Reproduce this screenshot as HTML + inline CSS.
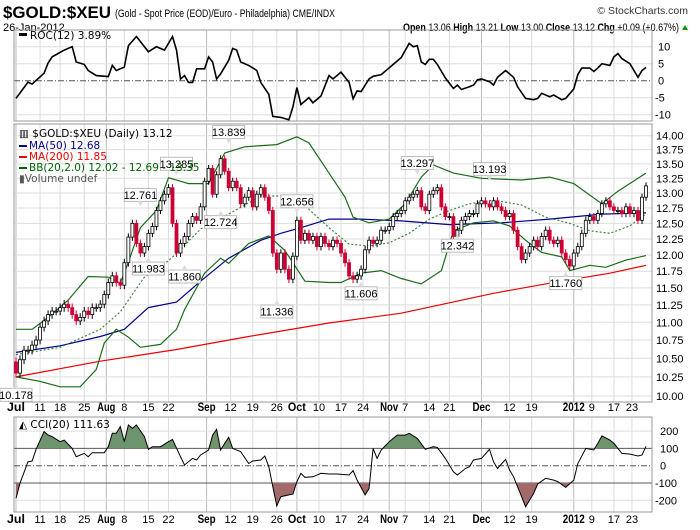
<!DOCTYPE html>
<html><head><meta charset="utf-8"><style>
html,body{margin:0;padding:0;background:#fff}
svg{display:block;font-family:"Liberation Sans",sans-serif}
</style></head><body>
<svg id="chart" width="700" height="530" viewBox="0 0 700 530">
<defs>
<clipPath id="clipUp"><rect x="14" y="418" width="638" height="30.4"/></clipPath>
<clipPath id="clipDn"><rect x="14" y="482.9" width="638" height="30"/></clipPath>
</defs>
<g>
<text x="3" y="18" font-size="17" font-weight="bold" textLength="108" lengthAdjust="spacingAndGlyphs">$GOLD:$XEU</text>
<text x="115" y="17" font-size="11" textLength="220" lengthAdjust="spacingAndGlyphs">(Gold - Spot Price (EOD)/Euro - Philadelphia) CME/INDX</text>
<text x="688" y="14" font-size="10.5" fill="#333" text-anchor="end">© StockCharts.com</text>
<text x="3" y="31" font-size="11">26-Jan-2012</text>
<text x="403" y="31" font-size="11" textLength="276" lengthAdjust="spacingAndGlyphs"><tspan font-weight="bold">Open</tspan> 13.06 <tspan font-weight="bold">High</tspan> 13.21 <tspan font-weight="bold">Low</tspan> 13.00 <tspan font-weight="bold">Close</tspan> 13.12 <tspan font-weight="bold">Chg</tspan> +0.09 (+0.67%)</text>
<polygon points="682,30 688,30 685,25" fill="#090"/>
</g>
<g id="grid"></g>
<g id="panels"></g>
<g id="marks"></g>
<g id="legends" font-family="DejaVu Sans, sans-serif" font-size="10.5">
<rect x="19" y="33" width="8" height="3" fill="#000"/>
<text x="30" y="39">ROC(12) 3.89%</text>
<text x="19" y="137" fill="#000">▥ $GOLD:$XEU (Daily) 13.12</text>
<rect x="19" y="145" width="8" height="2" fill="#00008b"/>
<text x="29" y="149" fill="#00008b">MA(50) 12.68</text>
<rect x="19" y="156" width="8" height="2" fill="#e00"/>
<text x="29" y="160" fill="#e00">MA(200) 11.85</text>
<rect x="19" y="167" width="8" height="2" fill="#060"/>
<text x="29" y="171" fill="#060">BB(20,2.0) 12.02 - 12.69 - 13.35</text>
<text x="19" y="182" fill="#555">▮Volume undef</text>
<text x="19" y="428" fill="#000">◭ CCI(20) 111.63</text>
</g>
</svg>
<script>
var closes=[10.3,10.48,10.61,10.61,10.68,10.75,10.93,11.02,11.11,11.16,11.16,11.21,
11.26,11.21,11.11,11.02,11.07,11.16,11.11,11.21,11.21,11.26,
11.40,11.58,11.68,11.58,11.54,11.88,12.28,12.50,12.18,12.03,
12.13,12.34,12.45,12.71,12.87,12.98,13.09,12.50,12.03,12.18,
12.29,12.50,12.61,12.55,12.77,13.20,13.42,12.98,13.31,13.59,
13.37,13.09,13.20,13.09,12.82,12.93,13.04,12.77,12.98,13.09,
12.93,12.71,12.03,11.78,12.03,11.78,11.63,11.98,12.55,12.23,
12.34,12.23,12.29,12.13,12.29,12.18,12.13,12.23,12.18,12.03,
11.88,11.68,11.63,11.68,11.78,12.08,12.23,12.18,12.23,12.39,
12.39,12.45,12.61,12.66,12.71,12.87,12.93,12.98,13.04,12.77,
12.71,12.98,13.04,13.09,12.77,12.61,12.61,12.29,12.39,12.55,
12.61,12.66,12.66,12.82,12.87,12.82,12.77,12.87,12.77,12.71,
12.61,12.66,12.39,12.13,11.93,12.03,12.13,12.23,12.13,12.29,
12.39,12.23,12.18,12.23,12.03,11.93,11.83,12.03,12.13,12.34,
12.55,12.61,12.55,12.66,12.82,12.87,12.77,12.71,12.71,12.66,
12.77,12.66,12.71,12.55,12.93,13.12];
var priceNotes=[[0,10.178,-1],[31,12.761,1],[33,11.983,-1],[40,13.285,1],[42,11.860,-1],[51,12.724,-1],[53,13.839,1],[65,11.336,-1],[70,12.656,1],[86,11.606,-1],[100,13.297,1],[110,12.342,-1],[118,13.193,1],[137,11.760,-1]];
var ma200=[[0,10.25],[21,10.46],[40,10.62],[58,10.80],[78,10.99],[96,11.13],[119,11.42],[133,11.57],[148,11.72],[157,11.84]];
var ma50=[[0,10.58],[11,10.67],[21,10.80],[27,10.90],[33,11.21],[40,11.29],[46,11.6],[53,11.95],[61,12.23],[66,12.34],[71,12.43],[78,12.57],[86,12.57],[96,12.54],[108,12.48],[121,12.51],[133,12.57],[146,12.65],[157,12.67]];
var bbUpper=[[0,10.90],[4,10.90],[8,11.07],[13,11.32],[18,11.67],[23,11.66],[26,11.57],[28,11.89],[31,12.43],[35,12.71],[38,13.26],[43,13.16],[48,13.16],[52,13.69],[57,13.8],[65,13.84],[70,13.98],[73,13.87],[78,13.34],[82,12.93],[84,12.6],[88,12.51],[93,12.57],[97,12.82],[101,13.27],[104,13.48],[109,13.34],[116,13.25],[126,13.22],[133,13.27],[139,13.16],[146,12.82],[150,13.03],[157,13.34]];
var bbLower=[[0,10.25],[6,10.19],[11,10.12],[16,10.12],[20,10.35],[22,10.71],[25,10.90],[28,10.79],[31,10.65],[36,10.69],[40,10.90],[42,11.18],[47,11.72],[51,11.95],[53,11.87],[58,12.18],[63,12.3],[67,12.07],[72,11.6],[78,11.58],[81,11.58],[86,11.72],[91,11.76],[96,11.64],[101,11.56],[106,11.76],[109,12.38],[114,12.51],[119,12.54],[123,12.46],[127,12.23],[131,12.04],[136,11.97],[138,11.76],[143,11.84],[147,11.81],[152,11.92],[157,11.99]];
var bbMid=[[0,10.55],[11,10.65],[21,10.90],[26,11.15],[32,11.66],[36,11.81],[40,12.02],[46,12.41],[53,12.65],[61,12.95],[68,12.95],[73,12.73],[78,12.43],[83,12.17],[88,12.14],[93,12.19],[98,12.34],[103,12.57],[108,12.71],[113,12.82],[119,12.88],[126,12.8],[132,12.6],[138,12.5],[143,12.38],[148,12.34],[153,12.46],[157,12.65]];
var roc=[[0,-5.2],[3,-0.4],[4,-1],[7,2.2],[8,5.2],[9,7],[12,9],[14,10],[15,5.5],[17,4.8],[18,3],[20,1.5],[23,1.2],[24,4.5],[25,3],[27,4],[28,10.3],[30,13],[33,8.5],[35,10],[37,9],[39,13],[40,9],[41,0.5],[42,1.5],[43,-0.5],[44,-0.5],[45,3.5],[47,3.5],[48,7],[49,5.5],[50,0.5],[51,2],[53,6],[54,9.5],[55,9],[56,5.5],[58,4.5],[60,3],[61,-0.5],[63,-4],[64,-10.5],[66,-10.8],[68,-11.5],[69,-7.7],[70,-2],[71,-7],[73,-5],[74,-6.5],[76,-4.5],[78,1.5],[79,0.5],[81,2.5],[83,-0.5],[84,-5.3],[85,-3],[86,-3.2],[88,0.5],[89,1.3],[91,1.8],[93,3.8],[94,4.8],[96,6.8],[98,11],[99,10],[100,10.3],[101,5.5],[102,4.8],[103,6.3],[104,6.3],[105,4.8],[107,0.8],[109,-2.3],[110,-1.3],[111,-2.6],[113,-1.8],[114,-1.3],[115,0.3],[116,0.5],[118,-0.3],[119,-1.3],[120,1],[122,3],[124,1],[125,-1.8],[127,-5.2],[129,-5.6],[130,-5.2],[131,-3.7],[133,-4.7],[134,-4.2],[136,-5.6],[137,-5.2],[139,-2.4],[140,1.8],[141,3.7],[143,3.7],[144,2.7],[145,3.7],[146,5],[148,4.5],[149,7],[150,8],[151,6.5],[153,5],[155,1],[156,3],[157,3.9]];
var cci=[[0,-188],[1,-101],[3,23],[4,27],[5,95],[7,197],[8,177],[9,168],[11,139],[12,148],[14,100],[15,52],[17,71],[18,52],[19,75],[22,75],[23,110],[24,187],[25,187],[26,226],[27,139],[28,235],[29,216],[30,235],[32,168],[33,95],[34,110],[36,110],[38,139],[39,152],[41,52],[42,4],[44,42],[45,33],[46,62],[48,91],[49,177],[50,210],[51,91],[52,129],[53,164],[54,100],[56,81],[58,13],[59,27],[61,33],[62,56],[63,-6],[64,-121],[65,-233],[66,-179],[68,-169],[69,-164],[70,-92],[71,-44],[72,-67],[74,-64],[76,-44],[78,-48],[80,-48],[83,-54],[84,-29],[85,-83],[87,-169],[88,-131],[89,100],[90,42],[91,91],[93,139],[95,177],[97,177],[98,187],[100,158],[102,95],[104,110],[105,106],[107,42],[109,-35],[110,-54],[112,-16],[113,-6],[114,33],[116,42],[118,95],[119,23],[120,-16],[122,37],[123,-25],[124,-64],[126,-179],[127,-237],[129,-160],[130,-106],[132,-73],[134,-83],[135,-92],[137,-125],[139,-83],[140,13],[142,100],[144,91],[145,129],[146,172],[148,148],[149,129],[151,71],[153,67],[155,56],[156,62],[157,112]];
var priceTicks=[10,10.25,10.5,10.75,11,11.25,11.5,11.75,12,12.25,12.5,12.75,13,13.25,13.5,13.75,14];
var rocTicks=[10,5,0,-5,-10];
var cciTicks=[200,100,0,-100,-200];
var dateLabels=["Jul","11","18","25","Aug","8","15","22","Sep","12","19","26","Oct","10","17","24","Nov","7","14","21","Dec","12","19","2012","9","17","23"];
var dateIdx=[0,6,11,17,22.5,27,33,38,47.5,53.5,59,65,70,75.5,81,86.5,93,97,103,108,116,123,128.5,139,143.5,149,153.5];
var dateMajor=[1,0,0,0,1,0,0,0,1,0,0,0,1,0,0,0,1,0,0,0,1,0,0,1,0,0,0];

var NS="http://www.w3.org/2000/svg";
var X0=16,X1=646,L=14,R=652;
function xDay(i){return X0+i*(X1-X0)/(closes.length-1);}
function yP(p){return 135.7+(Math.log(14)-Math.log(p))/Math.log(1.4)*260.3;}
function yRoc(v){return 80.7-v*3.4;}
function yCci(v){return 465.7-v*0.173;}
function mk(tag,attrs,parent){var e=document.createElementNS(NS,tag);for(var k in attrs)e.setAttribute(k,attrs[k]);parent.appendChild(e);return e;}
var grid=document.getElementById('grid'),panels=document.getElementById('panels'),marks=document.getElementById('marks');
var panelDefs=[[30,121,'roc-panel'],[124,402,'price-panel'],[417,512,'cci-panel']];
panelDefs.forEach(function(pd){
  var r=mk('rect',{x:L,y:pd[0],width:R-L,height:pd[1]-pd[0],fill:'none',stroke:'#999'},panels);
  
  
  dateIdx.forEach(function(di,k){
    var gl=mk('line',{x1:xDay(di),x2:xDay(di),y1:pd[0],y2:pd[1],stroke:dateMajor[k]?'#bbb':'#ddd','stroke-width':1},grid);
    
    
  });
});
priceTicks.forEach(function(t){
  var y=yP(t);
  var gl=mk('line',{x1:L,x2:R,y1:y,y2:y,stroke:'#ddd'},grid);
  
  
  var tx=mk('text',{x:656,y:y+4,'font-size':11},marks);tx.textContent=t.toFixed(2);
  
  
});
rocTicks.forEach(function(t){
  var y=yRoc(t);
  var gl=mk('line',{x1:L,x2:R,y1:y,y2:y,stroke:t===0?'#555':'#ddd','stroke-dasharray':t===0?'6,2,1,2':'none'},grid);
  
  
  var tx=mk('text',{x:t<0?655:658,y:y+4,'font-size':11},marks);tx.textContent=String(t);
  
  
});
cciTicks.forEach(function(t){
  var y=yCci(t);
  var solid=Math.abs(t)===100;
  var gl=mk('line',{x1:L,x2:R,y1:y,y2:y,stroke:solid?'#555':(t===0?'#555':'#ddd'),'stroke-dasharray':t===0?'6,2,1,2':'none'},grid);
  
  
  var tx=mk('text',{x:t<0?655:660,y:y+4,'font-size':11},marks);tx.textContent=String(t);
  
  
});
[411,523].forEach(function(yy,row){
  dateLabels.forEach(function(lbl,k){
    var major=dateMajor[k];
    var attrs={x:xDay(dateIdx[k]),y:yy,'font-size':major?12:11,'font-weight':major?'bold':'normal','text-anchor':'middle'};
    if(major){attrs.textLength=lbl.length>3?22:18;attrs.lengthAdjust='spacingAndGlyphs';}
    var tx=mk('text',attrs,marks);
    tx.textContent=lbl;
    
    
  });
});
function path(arr,yf){return arr.map(function(d,k){return (k?'L':'M')+xDay(d[0]).toFixed(1)+','+yf(d[1]).toFixed(1);}).join(' ');}
function line(arr,yf,attrs,name){var a={d:path(arr,yf),fill:'none'};for(var k in attrs)a[k]=attrs[k];var e=mk('path',a,marks);return e;}
line(roc,yRoc,{stroke:'#000','stroke-width':1.6},'roc-line');
line(ma200,yP,{stroke:'#e00','stroke-width':1.2},'ma200-line');
line(ma50,yP,{stroke:'#00008b','stroke-width':1.2},'ma50-line');
line(bbUpper,yP,{stroke:'#1a6b1a','stroke-width':1.2},'bb-upper-line');
line(bbLower,yP,{stroke:'#1a6b1a','stroke-width':1.2},'bb-lower-line');
line(bbMid,yP,{stroke:'#3a8a3a','stroke-width':1.2,'stroke-dasharray':'2,2'},'bb-middle-line');
closes.forEach(function(c,i){
  var o=i?closes[i-1]:c+0.15;
  var x=xDay(i),up=c>=o;
  var hi=Math.max(o,c)+0.06,lo=Math.min(o,c)-0.06;
  var w=mk('line',{x1:x,x2:x,y1:yP(hi),y2:yP(lo),stroke:up?'#000':'#c03',"stroke-width":1},marks);
  
  
  var yt=yP(Math.max(o,c)),yb=yP(Math.min(o,c));
  var b=mk('rect',{x:x-1.5,y:yt,width:3,height:Math.max(1,yb-yt),fill:up?'#fff':'#c03',stroke:up?'#000':'#c03','stroke-width':0.8},marks);
  
  
});
priceNotes.forEach(function(n){
  var x=xDay(n[0]),y=yP(n[1]),above=n[2]>0;
  var by=above?y-19:y+6;
  var g=mk('g',{},marks);
  
  
  mk('rect',{x:x-16,y:by,width:32,height:13,fill:'#fff',stroke:'#bbb'},g);
  mk('polygon',{points:above?(x-3)+','+(by+13)+' '+(x+3)+','+(by+13)+' '+x+','+(y-1):(x-3)+','+by+' '+(x+3)+','+by+' '+x+','+(y+1),fill:'#ddd'},g);
  var t=mk('text',{x:x,y:by+10.5,'font-size':11,'text-anchor':'middle'},g);t.textContent=n[1].toFixed(3);
});
var cciPath=path(cci,yCci);
var first=xDay(cci[0][0]),last=xDay(cci[cci.length-1][0]);
var fu=mk('path',{d:cciPath+' L'+last+','+yCci(100)+' L'+first+','+yCci(100)+' Z',fill:'#6e946e','clip-path':'url(#clipUp)'},marks);


var fd=mk('path',{d:cciPath+' L'+last+','+yCci(-100)+' L'+first+','+yCci(-100)+' Z',fill:'#a26a6a','clip-path':'url(#clipDn)'},marks);


line(cci,yCci,{stroke:'#000','stroke-width':1},'cci-line');
</script>
</body></html>
